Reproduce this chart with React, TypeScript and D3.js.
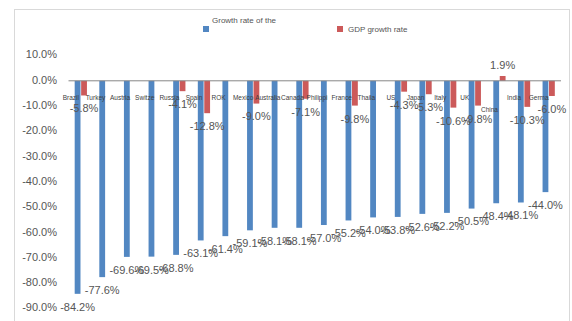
import React from 'react';
import * as d3 from 'd3';

// categories as shown on the axis (truncated like the original)
const categories = [
  'Brazil', 'Turkey', 'Austria', 'Switze', 'Russia', 'Spain', 'ROK', 'Mexico', 'Australia', 'Canada',
  'Philippi', 'France', 'Thaila', 'US', 'Japan', 'Italy', 'UK', 'China', 'India', 'Germa'
];

// series 1 (blue) - growth rate
const growthRate = [
  -84.2, -77.6, -69.6, -69.5, -68.8, -63.1, -61.4, -59.1, -58.1, -58.1,
  -57.0, -55.2, -54.0, -53.8, -52.6, -52.2, -50.5, -48.4, -48.1, -44.0
];

// series 2 (red) - GDP growth rate, null where no bar
const gdpRate: (number | null)[] = [
  -5.8, null, null, null, -4.1, -12.8, null, -9.0, null, -7.1,
  null, -9.8, null, -4.3, -5.3, -10.6, -9.8, 1.9, -10.3, -6.0
];

const yTicks = [10, 0, -10, -20, -30, -40, -50, -60, -70, -80, -90];

const seriesNames = ['Growth rate of the', 'GDP growth rate'];
const colors = ['#5287C2', '#CC5A5A'];

const W = 572;
const H = 321;
const FONT = '"Liberation Sans", Arial, sans-serif';
const TEXT = '#555555';

const App: React.FC = () => {
  const y = d3.scaleLinear().domain([-90, 10]).range([308.5, 55.5]);
  const x = d3.scaleBand<string>()
    .domain(categories)
    .range([68.5, 561])
    .paddingInner(0.45)
    .paddingOuter(0.225);
  const x1 = d3.scaleBand<string>()
    .domain(['a', 'b'])
    .range([0, x.bandwidth()])
    .padding(0.1);

  const fmt = (v: number) => `${v.toFixed(1)}%`;

  const bar = (cat: string, v: number, key: string, i: number) => {
    const bx = (x(cat) ?? 0) + (x1(key) ?? 0);
    const y0 = y(0);
    const yv = y(v);
    return (
      <rect
        key={`${key}-${i}`}
        x={bx}
        y={Math.min(y0, yv)}
        width={x1.bandwidth()}
        height={Math.abs(yv - y0)}
        fill={key === 'a' ? colors[0] : colors[1]}
      />
    );
  };

  const label = (cat: string, v: number, key: string, i: number) => {
    const cx = (x(cat) ?? 0) + (x1(key) ?? 0) + x1.bandwidth() / 2;
    const ly = v < 0 ? y(v) + 14 : y(v) - 10;
    return (
      <text
        key={`l${key}-${i}`}
        x={cx}
        y={ly}
        textAnchor="middle"
        dominantBaseline="middle"
        fontSize={11}
        fill={TEXT}
      >
        {fmt(v)}
      </text>
    );
  };

  return (
    <div>
      <style>{`body{margin:0}`}</style>
      <svg width={W} height={H} style={{ display: 'block', fontFamily: FONT, background: '#fff' }}>
        {/* chart border */}
        <rect x={14.5} y={9.5} width={555} height={330} fill="none" stroke="#d9d9d9" />

        {/* legend */}
        <rect x={203} y={26} width={6} height={6} fill={colors[0]} />
        <text x={212} y={21} fontSize={8} fill={TEXT} dominantBaseline="middle">{seriesNames[0]}</text>
        <rect x={337} y={26} width={6} height={6} fill={colors[1]} />
        <text x={348} y={30} fontSize={8} fill={TEXT} dominantBaseline="middle">{seriesNames[1]}</text>

        {/* y axis tick labels */}
        {yTicks.map(t => (
          <text
            key={t}
            x={57}
            y={y(t)}
            textAnchor="end"
            dominantBaseline="middle"
            fontSize={11}
            fill={TEXT}
          >
            {fmt(t)}
          </text>
        ))}

        {/* bars */}
        {categories.map((c, i) => bar(c, growthRate[i], 'a', i))}
        {categories.map((c, i) => (gdpRate[i] === null ? null : bar(c, gdpRate[i] as number, 'b', i)))}

        {/* zero axis */}
        <line x1={68.5} x2={561} y1={y(0)} y2={y(0)} stroke="#868686" strokeWidth={1} />

        {/* category labels */}
        {categories.map((c, i) => (
          <text
            key={`c${i}`}
            x={(x(c) ?? 0) + x.bandwidth() / 2 - 10}
            y={c === 'China' ? 110 : 98}
            textAnchor="middle"
            dominantBaseline="middle"
            fontSize={6.5}
            fill="#404040"
          >
            {c}
          </text>
        ))}

        {/* data labels */}
        {categories.map((c, i) => label(c, growthRate[i], 'a', i))}
        {categories.map((c, i) => (gdpRate[i] === null ? null : label(c, gdpRate[i] as number, 'b', i)))}
      </svg>
    </div>
  );
};

export default App;
